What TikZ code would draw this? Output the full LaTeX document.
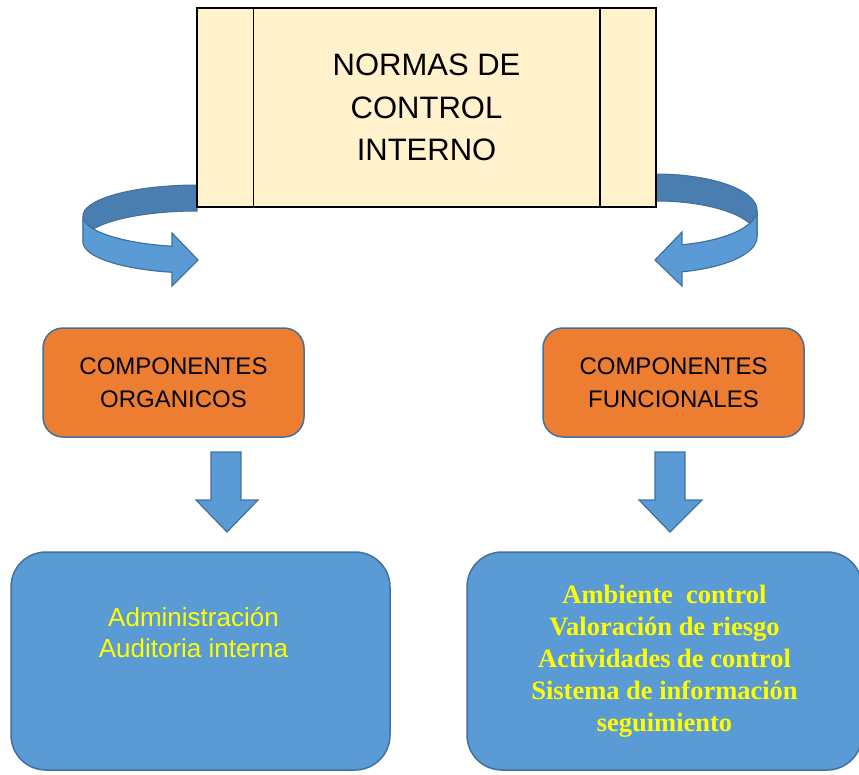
\documentclass[tikz,border=0pt]{standalone}
\usepackage{fontspec}
\setmainfont{Liberation Sans}
\newfontfamily\timesfont{Liberation Serif}
\definecolor{cream}{HTML}{FFF2CC}
\definecolor{boxblue}{HTML}{5B9BD5}
\definecolor{edgeblue}{HTML}{41719C}
\definecolor{darkband}{HTML}{4A7DB0}
\definecolor{boxorange}{HTML}{ED7D31}
\definecolor{textyellow}{HTML}{FFFF00}

\begin{document}
\begin{tikzpicture}[x=1pt, y=-1pt,
  orangebox/.style={draw=edgeblue, line width=1.5pt, fill=boxorange, rounded corners=20pt, minimum width=261pt, minimum height=109pt, align=center, font=\fontsize{24}{33}\selectfont},
  bluebox/.style={draw=edgeblue, line width=1.5pt, fill=boxblue, rounded corners=35pt, minimum height=218pt, align=center, text=textyellow},
  blockarrow/.style={draw=edgeblue, line width=1.2pt, fill=boxblue}]
\useasboundingbox (0,0) rectangle (859,774);
% Draw curved arrows
\draw[fill=darkband, draw=edgeblue, line width=1pt] plot[domain=90:180, samples=40, variable=\t] ({197+114*cos(\t)},{216-31*sin(\t)}) -- plot[domain=180:90, samples=40, variable=\t] ({197+114*cos(\t)},{242-31*sin(\t)}) -- cycle;
\draw[blockarrow] plot[domain=180:257.3, samples=40, variable=\t] ({197+114*cos(\t)},{216-31*sin(\t)}) -- (172,233) -- (198,260) -- (172,286) -- plot[domain=257.3:180, samples=40, variable=\t] ({197+114*cos(\t)},{242-31*sin(\t)}) -- cycle;
\draw[fill=darkband, draw=edgeblue, line width=1pt] plot[domain=90:0, samples=40, variable=\t] ({656+101*cos(\t)},{210-36*sin(\t)}) -- plot[domain=0:90, samples=40, variable=\t] ({656+101*cos(\t)},{237-36*sin(\t)}) -- cycle;
\draw[blockarrow] plot[domain=0:-75.1, samples=40, variable=\t] ({656+101*cos(\t)},{210-36*sin(\t)}) -- (682,232) -- (655,260) -- (682,286) -- plot[domain=-75.1:0, samples=40, variable=\t] ({656+101*cos(\t)},{237-36*sin(\t)}) -- cycle;
% Draw title box
\node[draw, line width=1.5pt, fill=cream, minimum width=459pt, minimum height=199pt, align=center, font=\fontsize{31}{42.5}\selectfont] (normas) at (426.5,107.5) {NORMAS DE\\CONTROL\\INTERNO};
\draw[line width=1.5pt] ([xshift=57pt]normas.north west) -- ([xshift=57pt]normas.south west);
\draw[line width=1.5pt] ([xshift=-57pt]normas.north east) -- ([xshift=-57pt]normas.south east);
% Draw component boxes
\node[orangebox] (organicos) at (173.5,382.5) {COMPONENTES\\ORGANICOS};
\node[orangebox] (funcionales) at (673.5,382.5) {COMPONENTES\\FUNCIONALES};
% Draw down arrows
\draw[blockarrow] (211,452) -- (241,452) -- (241,500) -- (258,500) -- (227,532) -- (196,500) -- (211,500) -- cycle;
\draw[blockarrow] (655,452) -- (685,452) -- (685,500) -- (702,500) -- (670,532) -- (639,500) -- (655,500) -- cycle;
% Draw lists
\node[bluebox, minimum width=379pt] (orglist) at (200.5,661) {};
\node[text=textyellow, align=center, font=\fontsize{26}{31}\selectfont] (orgtext) at ([xshift=-7pt, yshift=28pt]orglist.center) {Administración\\Auditoria interna};
\node[bluebox, minimum width=395pt, font=\timesfont\bfseries\fontsize{26.5}{32}\selectfont] (funlist) at (664.5,661) {Ambiente\ \ control\\Valoración de riesgo\\Actividades de control\\Sistema de información\\seguimiento};
\end{tikzpicture}
\end{document}
